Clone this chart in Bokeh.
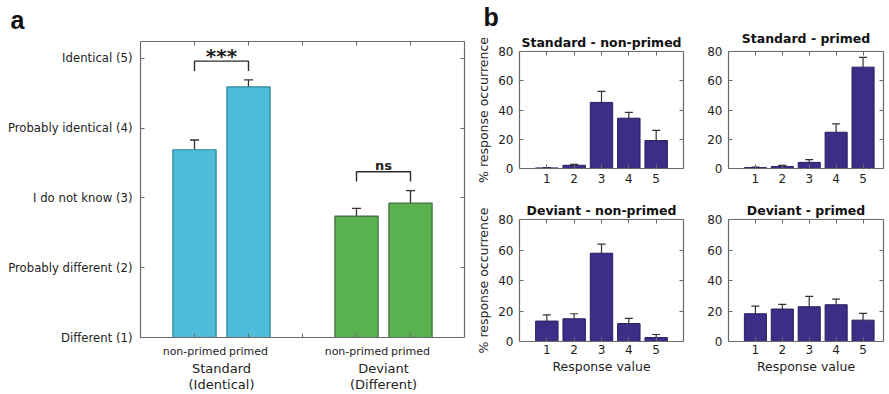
from bokeh.plotting import figure
from bokeh.layouts import row, column
from bokeh.models import (ColumnDataSource, Whisker, TeeHead, Title, LinearAxis,
                          FixedTicker, Range1d)
from bokeh.core.properties import value
from bokeh.embed import file_html
from bokeh.resources import INLINE

# ---------------- data ----------------
# Panel a: mean rating per condition
a_positions = [1, 2, 4, 5]
a_conditions = ["non-primed", "primed", "non-primed", "primed"]
a_means = [3.69, 4.59, 2.74, 2.925]
a_errors = [0.14, 0.10, 0.11, 0.18]
a_groups = ["Standard", "Deviant"]
a_group_sub = ["(Identical)", "(Different)"]
a_group_pos = [1.5, 4.5]
a_scale_labels = ["Different (1)", "Probably different (2)", "I do not know (3)",
                  "Probably identical (4)", "Identical (5)"]
a_scale_values = [1, 2, 3, 4, 5]
a_sig = ["***", "ns"]

# Panel b: % response occurrence per response value
response_values = [1, 2, 3, 4, 5]
std_np = [0.4, 2.2, 45.2, 34.4, 19.1]
std_np_err = [0.3, 0.6, 7.6, 4.0, 7.0]
std_p = [0.6, 1.4, 4.2, 24.8, 69.3]
std_p_err = [0.4, 0.7, 1.9, 5.7, 6.7]
dev_np = [13.4, 14.9, 57.9, 11.8, 2.6]
dev_np_err = [4.1, 3.3, 5.9, 3.3, 2.0]
dev_p = [18.2, 21.3, 22.8, 24.1, 14.0]
dev_p_err = [5.0, 3.0, 6.8, 3.7, 4.4]
b_titles = ["Standard - non-primed", "Standard - primed",
            "Deviant - non-primed", "Deviant - primed"]
b_yticks = [0, 20, 40, 60, 80]

# ---------------- styles ----------------
FONT = "DejaVu Sans"
TXT = "#1e1e1e"
FRAME = "#6a6a6a"
CYAN, CYAN_EDGE = "#4fbcd9", "#2a8797"
GREEN, GREEN_EDGE = "#59b150", "#3d6b3d"
BLUE, BLUE_EDGE = "#3a2e86", "#29215f"
ERR = "#333333"


def style_axis(ax):
    ax.axis_line_color = FRAME
    ax.axis_line_width = 1.2
    ax.major_tick_in = 4
    ax.major_tick_out = 0
    ax.major_tick_line_color = FRAME
    ax.minor_tick_line_color = None
    ax.major_label_text_font = FONT
    ax.major_label_text_color = TXT
    ax.axis_label_text_font = FONT
    ax.axis_label_text_font_style = "normal"
    ax.axis_label_text_color = TXT


def frame_axes(p, xticks, yticks):
    """Mirrored axes on top and right: ticks only, empty labels."""
    top = LinearAxis(ticker=FixedTicker(ticks=xticks),
                     major_label_overrides={t: "" for t in xticks})
    right = LinearAxis(ticker=FixedTicker(ticks=yticks),
                       major_label_overrides={t: "" for t in yticks})
    p.add_layout(top, "above")
    p.add_layout(right, "right")
    for ax in (top, right):
        ax.major_label_standoff = 0
    for ax in p.axis:
        style_axis(ax)
    p.xgrid.visible = False
    p.ygrid.visible = False
    p.outline_line_color = None


# ---------------- panel a ----------------
pa = figure(width=470, height=394, x_range=Range1d(0, 6), y_range=Range1d(1, 5.241),
            output_backend="svg", toolbar_location=None,
            min_border_left=140, min_border_right=6, min_border_top=41,
            min_border_bottom=54)
pa.xaxis.ticker = FixedTicker(ticks=[1, 2, 3, 4, 5])
pa.yaxis.ticker = FixedTicker(ticks=a_scale_values)
frame_axes(pa, [1, 2, 3, 4, 5], a_scale_values)
pa.below[0].major_label_overrides = {1: a_conditions[0], 2: a_conditions[1], 3: "",
                                     4: a_conditions[2], 5: a_conditions[3]}
pa.below[0].major_label_text_font_size = "11px"
pa.below[0].major_label_standoff = 7
pa.left[0].major_label_overrides = {v: l for v, l in zip(a_scale_values, a_scale_labels)}
pa.left[0].major_label_text_font_size = "11.7px"
pa.left[0].major_label_standoff = 8

# group labels as two extra unlined axes below
grp_axis = LinearAxis(ticker=FixedTicker(ticks=a_group_pos),
                      major_label_overrides={p_: g for p_, g in zip(a_group_pos, a_groups)})
sub_axis = LinearAxis(ticker=FixedTicker(ticks=a_group_pos),
                      major_label_overrides={p_: g for p_, g in zip(a_group_pos, a_group_sub)})
for ax, so in ((grp_axis, 0), (sub_axis, -2)):
    style_axis(ax)
    ax.axis_line_color = None
    ax.major_tick_line_color = None
    ax.major_tick_in = 0
    ax.major_label_text_font_size = "13px"
    ax.major_label_standoff = so
    pa.add_layout(ax, "below")

a_fill = [CYAN, CYAN, GREEN, GREEN]
a_edge = [CYAN_EDGE, CYAN_EDGE, GREEN_EDGE, GREEN_EDGE]
src_a = ColumnDataSource(dict(x=a_positions, top=a_means,
                              upper=[m + e for m, e in zip(a_means, a_errors)],
                              fill=a_fill, edge=a_edge))
pa.vbar(x="x", top="top", bottom=1, width=0.8, source=src_a,
        fill_color="fill", line_color="edge", line_width=1.2)
pa.add_layout(Whisker(base="x", lower="top", upper="upper", source=src_a,
                      dimension="height", line_color=ERR, line_width=1.3,
                      lower_head=None,
                      upper_head=TeeHead(size=9, line_color=ERR, line_width=1.3)))

# significance brackets
for k, sig in enumerate(a_sig):
    i, j = 2 * k, 2 * k + 1
    top_y = max(a_means[i] + a_errors[i], a_means[j] + a_errors[j]) + 0.27
    xs = [a_positions[i], a_positions[i], a_positions[j], a_positions[j]]
    ys = [top_y - 0.14, top_y, top_y, top_y - 0.14]
    pa.line(xs, ys, line_color="#2a2a2a", line_width=1.4)
    mid = (a_positions[i] + a_positions[j]) / 2
    if sig == "***":
        pa.text([mid], [top_y + 0.08], text=[sig], text_font=value(FONT),
                text_font_style="bold", text_font_size="20px", text_align="center",
                text_baseline="alphabetic", text_color=TXT)
    else:
        pa.text([mid], [top_y + 0.085], text=[sig], text_font=value(FONT),
                text_font_style="bold", text_font_size="13px", text_align="center",
                text_baseline="alphabetic", text_color=TXT)

# small spacer between the frame and the panel letter, so the letter sits higher
pa.add_layout(Title(text=" ", text_font_size="6px", standoff=0), "above")
pa.title.text = "a"
pa.title.align = "left"
pa.title.offset = -130
pa.title.text_font = "Liberation Sans"
pa.title.text_font_style = "bold"
pa.title.text_font_size = "25px"
pa.title.text_color = "#111111"
pa.title.standoff = 0


# ---------------- panel b ----------------
def make_b(vals, errs, title, width, x_end, bl, br, bt, bb, height,
           ylabel, xlabel, tick_standoff, title_offset, title_standoff, letter=None):
    p = figure(width=width, height=height, x_range=Range1d(0, x_end),
               y_range=Range1d(0, 80), output_backend="svg", toolbar_location=None,
               min_border_left=bl, min_border_right=br, min_border_top=bt,
               min_border_bottom=bb, title=letter)
    p.xaxis.ticker = FixedTicker(ticks=response_values)
    p.yaxis.ticker = FixedTicker(ticks=b_yticks)
    frame_axes(p, response_values, b_yticks)
    p.below[0].major_label_text_font_size = "12px"
    p.below[0].major_label_standoff = tick_standoff
    p.left[0].major_label_text_font_size = "12px"
    p.left[0].major_label_standoff = 6
    if ylabel:
        p.left[0].axis_label = ylabel
        p.left[0].axis_label_text_font_size = "12.5px"
        p.left[0].axis_label_standoff = 4
    if xlabel:
        p.below[0].axis_label = xlabel
        p.below[0].axis_label_text_font_size = "12.5px"
        p.below[0].axis_label_standoff = 2
    src = ColumnDataSource(dict(x=response_values, top=vals,
                                upper=[v + e for v, e in zip(vals, errs)]))
    p.vbar(x="x", top="top", bottom=0, width=0.82, source=src,
           fill_color=BLUE, line_color=BLUE_EDGE, line_width=1)
    p.add_layout(Whisker(base="x", lower="top", upper="upper", source=src,
                         dimension="height", line_color=ERR, line_width=1.2,
                         lower_head=None,
                         upper_head=TeeHead(size=8, line_color=ERR, line_width=1.2)))
    p.add_layout(Title(text=title, align="center", offset=title_offset,
                       text_font=FONT, text_font_style="bold", text_font_size="12.5px",
                       text_color="#111111", standoff=title_standoff), "above")
    if letter:
        p.title.align = "left"
        p.title.offset = -36
        p.title.text_font = "Liberation Sans"
        p.title.text_font_style = "bold"
        p.title.text_font_size = "25px"
        p.title.text_color = "#111111"
        p.title.standoff = 0
    return p


YLAB = "% response occurrence"
XLAB = "Response value"
p1 = make_b(std_np, std_np_err, b_titles[0], 234, 6, 49, 21, 47, 22, 190, YLAB, None, 5, 0, 4,
            letter="b")
p2 = make_b(std_p, std_p_err, b_titles[1], 185, 5.76, 22, 6, 47, 22, 190, None, None, 5, 3, 11)
p3 = make_b(dev_np, dev_np_err, b_titles[2], 234, 6, 49, 21, 29, 53, 204, YLAB, XLAB, 3, 0, 4)
p4 = make_b(dev_p, dev_p_err, b_titles[3], 185, 5.76, 22, 6, 29, 53, 204, None, XLAB, 3, 3, 4)

layout = row(pa, column(row(p1, p2, spacing=0), row(p3, p4, spacing=0), spacing=0),
             spacing=0)

open("out.html", "w").write(file_html(layout, INLINE))
